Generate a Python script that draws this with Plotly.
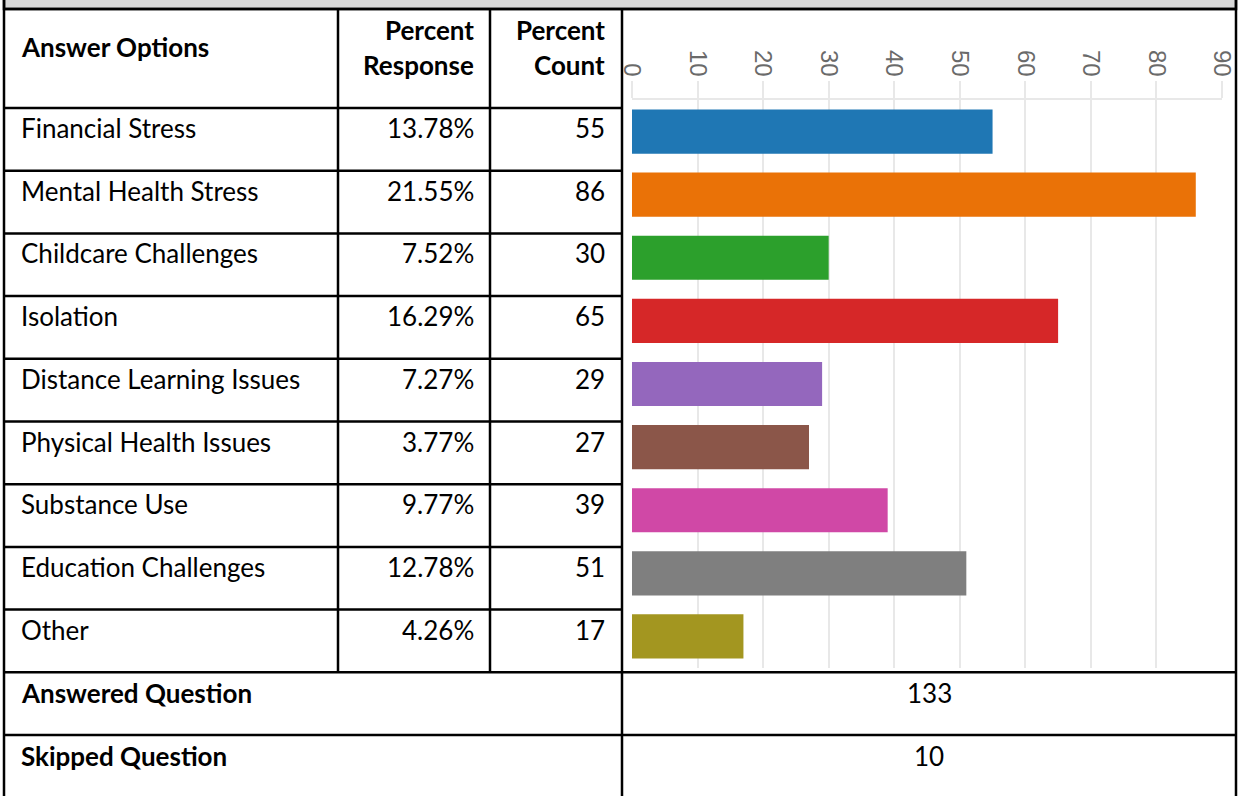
import plotly.graph_objects as go

# ---------------- data ----------------
categories = ["Financial Stress", "Mental Health Stress", "Childcare Challenges", "Isolation",
              "Distance Learning Issues", "Physical Health Issues", "Substance Use",
              "Education Challenges", "Other"]
percent_response = ["13.78%", "21.55%", "7.52%", "16.29%", "7.27%", "3.77%", "9.77%", "12.78%", "4.26%"]
counts = [55, 86, 30, 65, 29, 27, 39, 51, 17]
bar_colors = ["#1f77b4", "#ea7207", "#2ca02c", "#d62728", "#9467bd", "#8b5649",
              "#d048a6", "#7f7f7f", "#a39620"]
tick_values = [0, 10, 20, 30, 40, 50, 60, 70, 80, 90]
answered_question = 133
skipped_question = 10

# ---------------- layout helpers ----------------
W, H = 1239, 796
FONT = "Lato"
TXT = 26


def px(x):
    return x / W


def py(y):
    return 1 - y / H


shapes = []
annotations = []


def line(x0, y0, x1, y1, color="black", width=2.5):
    shapes.append(dict(type="line", xref="paper", yref="paper",
                       x0=px(x0), y0=py(y0), x1=px(x1), y1=py(y1),
                       line=dict(color=color, width=width)))


def text(x, y, s, anchor="left", bold=False, size=TXT):
    annotations.append(dict(xref="paper", yref="paper", x=px(x), y=py(y),
                            text=f"<b>{s}</b>" if bold else s, showarrow=False,
                            xanchor=anchor, yanchor="middle",
                            font=dict(family=FONT, size=size, color="black")))


L, R = 4, 1236
C1, C2, C3 = 338, 490, 622
HEAD_TOP, HEAD_BOT = 9, 108
ROW_H = 62.7
n = len(categories)
rows_bottom = HEAD_BOT + n * ROW_H  # ~672

# top gray band
shapes.append(dict(type="rect", xref="paper", yref="paper", x0=px(L), x1=px(R),
                   y0=py(HEAD_TOP), y1=py(-5), fillcolor="#d9d9d9",
                   line=dict(color="black", width=2.5), layer="below"))

# borders
line(L, 0, L, H + 5)
line(R, 0, R, H + 5)
line(L, HEAD_TOP, R, HEAD_TOP)
line(C3, HEAD_TOP, C3, H + 5)
line(C1, HEAD_TOP, C1, rows_bottom)
line(C2, HEAD_TOP, C2, rows_bottom)
for i in range(n):
    yl = HEAD_BOT + i * ROW_H
    line(L, yl, C3, yl)
line(L, rows_bottom, R, rows_bottom)
line(L, rows_bottom + ROW_H, R, rows_bottom + ROW_H)

# header
text(19, 47, "Answer Options", bold=True)
text(476, 30, "Percent", anchor="right", bold=True)
text(476, 65, "Response", anchor="right", bold=True)
text(607, 30, "Percent", anchor="right", bold=True)
text(607, 65, "Count", anchor="right", bold=True)

# rows
for i, (cat, pr, c) in enumerate(zip(categories, percent_response, counts)):
    yc = HEAD_BOT + i * ROW_H + 20
    text(19, yc, cat)
    text(476, yc, pr, anchor="right")
    text(607, yc, str(c), anchor="right")

# footer rows
text(19, rows_bottom + 21, "Answered Question", bold=True)
text((C3 + R) / 2, rows_bottom + 21, str(answered_question), anchor="center")
text(19, rows_bottom + ROW_H + 21, "Skipped Question", bold=True)
text((C3 + R) / 2, rows_bottom + ROW_H + 21, str(skipped_question), anchor="center")

# ---------------- bar chart ----------------
fig = go.Figure(go.Bar(
    x=counts, y=categories, orientation="h",
    marker=dict(color=bar_colors, line=dict(width=0)),
    hoverinfo="x+y",
))

fig.update_layout(
    template="none",
    width=W, height=H,
    autosize=False,
    margin=dict(l=0, r=0, t=0, b=0, pad=0, autoexpand=False),
    paper_bgcolor="white", plot_bgcolor="white",
    showlegend=False,
    bargap=0.3,
    shapes=shapes,
    annotations=annotations,
    xaxis=dict(domain=[px(632), px(1222)], range=[0, 90], side="top",
               tickvals=tick_values, ticktext=[str(t) for t in tick_values],
               tickangle=90, automargin=False,
               tickfont=dict(family="Liberation Sans Narrow, Liberation Sans", size=24, color="#6a6a6a"),
               showgrid=True, gridcolor="#e8e8e8", gridwidth=2,
               ticks="outside", ticklen=17, tickcolor="#e8e8e8", tickwidth=2,
               showline=True, linecolor="#e8e8e8", linewidth=2,
               zeroline=False, fixedrange=True, ticklabelstandoff=-4),
    yaxis=dict(domain=[py(668), py(100)], range=[n - 0.5, -0.5], automargin=False,
               showticklabels=False, showgrid=False, zeroline=False,
               showline=False, ticks="", fixedrange=True),
)

fig.write_html("out.html",
               config={"displayModeBar": False, "responsive": False},
               post_script="document.body.style.margin='0';document.body.style.padding='0';"
                           "document.documentElement.style.overflow='hidden';")
